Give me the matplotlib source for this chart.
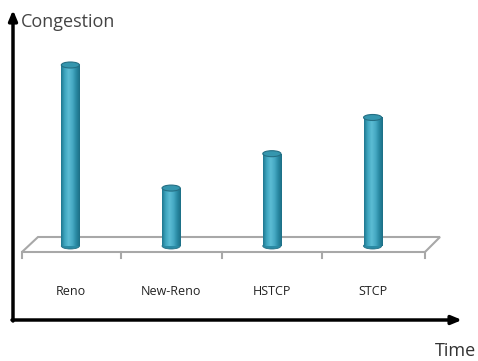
import numpy as np
import matplotlib.pyplot as plt
from matplotlib.patches import Ellipse, Polygon
from matplotlib.colors import LinearSegmentedColormap

protocols = ['Reno', 'New-Reno', 'HSTCP', 'STCP']
congestion = [10.0, 3.2, 5.1, 7.1]

fig = plt.figure(figsize=(4.78, 3.61), dpi=100)

# background axes in pixel units for the arrows and the floor
bg = fig.add_axes([0, 0, 1, 1])
bg.set_xlim(0, 478)
bg.set_ylim(361, 0)
bg.axis('off')

bg.annotate('', xy=(13, 10), xytext=(13, 321),
            arrowprops=dict(arrowstyle='-|>,head_length=0.6,head_width=0.25', lw=2.5, color='black',
                            shrinkA=0, shrinkB=0))
bg.annotate('', xy=(462, 320), xytext=(12, 320),
            arrowprops=dict(arrowstyle='-|>,head_length=0.6,head_width=0.25', lw=2.5, color='black',
                            shrinkA=0, shrinkB=0))
bg.text(21, 22, 'Congestion', fontsize=13, family='Open Sans', color='#444444', va='center', ha='left')
bg.text(476, 351, 'Time', fontsize=13, family='Open Sans', color='#333333', va='center', ha='right')

floor = Polygon([(22, 252), (38, 237), (440, 237), (425, 252)], closed=True,
                fill=False, edgecolor='#a8a8a8', lw=1.5)
bg.add_patch(floor)
for x in [22, 121, 222, 322, 425]:
    bg.plot([x, x], [252, 258], color='#a8a8a8', lw=1.5)

# bar axes
ax = fig.add_axes([20 / 478, (361 - 246) / 361, 403 / 478, 200 / 361])
ax.patch.set_alpha(0)
for s in ax.spines.values():
    s.set_visible(False)
ax.set_yticks([])

ppu = 18.1  # pixels per unit
bw = 0.18
eh = 6 / ppu
cmap = LinearSegmentedColormap.from_list('cyl', ['#1f7890', '#3fa6c0', '#5cbcd4', '#48abc5', '#2a8aa4', '#1c6e85'])
grad = np.linspace(0, 1, 100).reshape(1, -1)

bars = ax.bar(range(len(protocols)), congestion, width=bw, color='none', zorder=3)
for i, (b, v) in enumerate(zip(bars, congestion)):
    ax.add_patch(Ellipse((i, 0), bw, eh, facecolor='#2a8aa4', edgecolor='#246f84', lw=0.6,
                         zorder=2, clip_on=False))
    im = ax.imshow(grad, extent=[i - bw / 2, i + bw / 2, 0, v], aspect='auto', cmap=cmap, zorder=3)
    im.set_clip_path(b)
    ax.add_patch(Ellipse((i, v), bw, eh, facecolor='#3596ae', edgecolor='#246f84', lw=0.8, zorder=4))

ax.set_xlim(-0.5, 3.5)
ax.set_ylim(0, 200 / ppu)
ax.set_xticks(range(len(protocols)))
ax.set_xticklabels(protocols, fontsize=9, family='Open Sans', color='#222222')
ax.tick_params(axis='x', length=0, pad=28)

fig.savefig('out.png', dpi=100)
